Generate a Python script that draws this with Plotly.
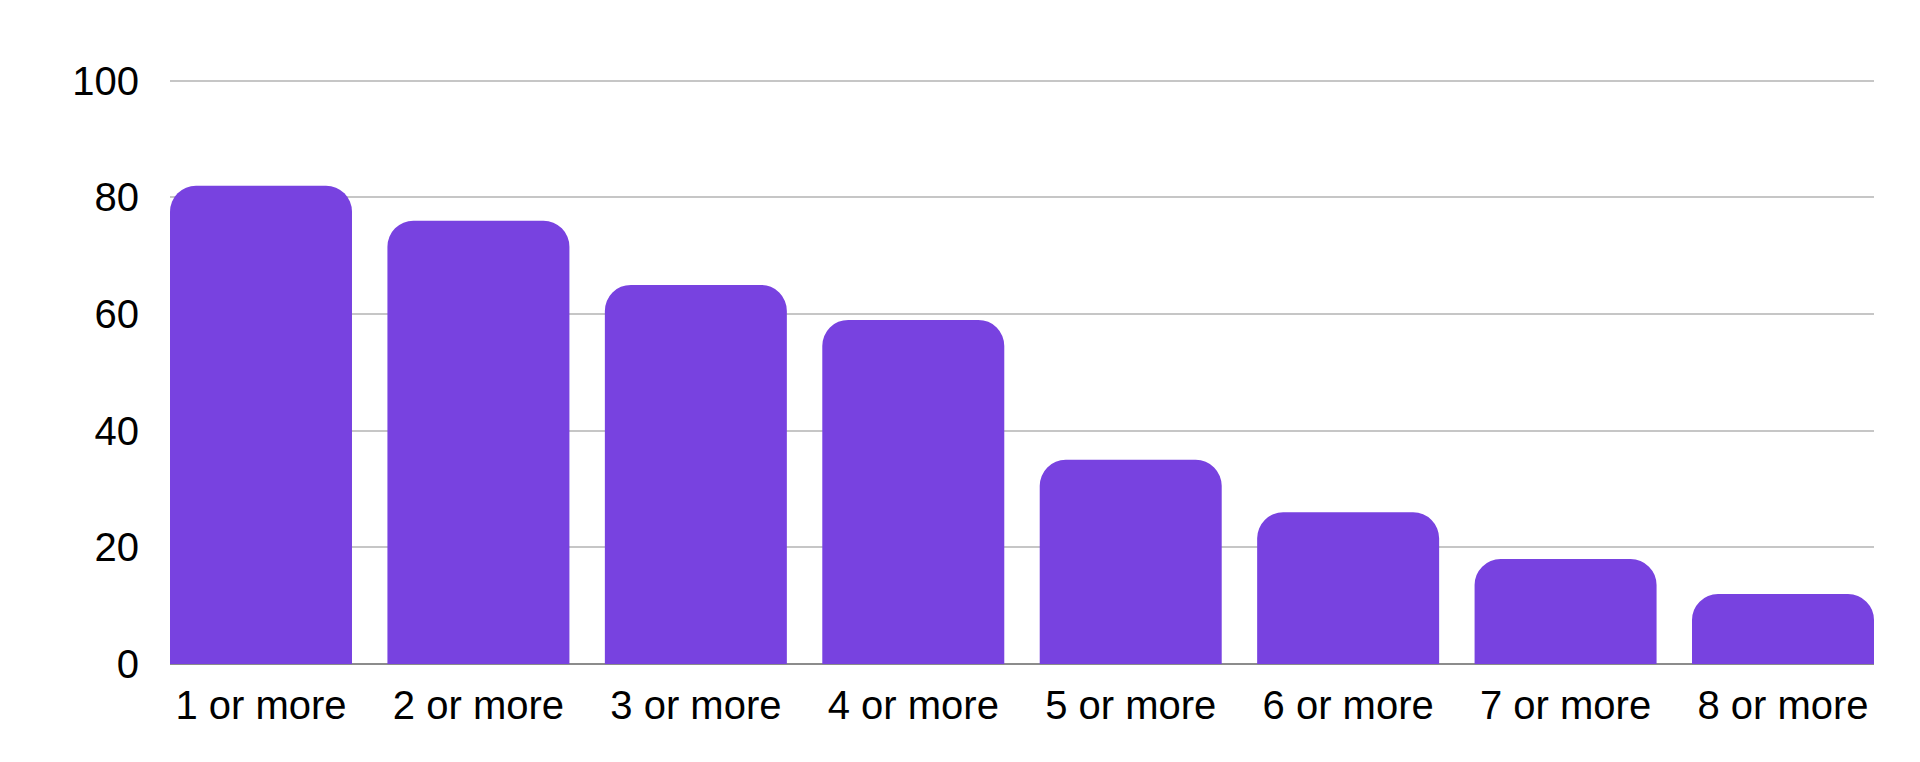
import plotly.graph_objects as go

# data
categories = ["1 or more", "2 or more", "3 or more", "4 or more",
              "5 or more", "6 or more", "7 or more", "8 or more"]
values = [82, 76, 65, 59, 35, 26, 18, 12]
y_ticks = [0, 20, 40, 60, 80, 100]

bar_color = "#7842e0"
bar_frac = 0.837  # bar width as share of category step

fig = go.Figure()
fig.add_trace(go.Bar(
    x=categories,
    y=values,
    marker=dict(color=bar_color, line=dict(width=0), cornerradius=26),
    width=bar_frac,
    showlegend=False,
    hovertemplate="%{x}: %{y}<extra></extra>",
))

# page body adds an 8px margin, so margins are trimmed by that much
fig.update_layout(
    width=1920,
    height=762,
    margin=dict(l=162, r=54, t=71, b=106),
    paper_bgcolor="white",
    plot_bgcolor="white",
    font=dict(family="Liberation Sans, Arial, sans-serif", size=40, color="black"),
)

fig.update_xaxes(
    type="category",
    range=[-bar_frac / 2, len(categories) - 1 + bar_frac / 2],
    showgrid=False,
    showline=False,
    ticks="",
    ticklabelstandoff=14,
    tickfont=dict(size=40),
)

fig.update_yaxes(
    range=[0, 100.3],  # a touch above 100 so the top grid line shows
    tickvals=y_ticks,
    showgrid=True,
    gridcolor="#c6c6c6",
    gridwidth=2,
    zeroline=True,
    zerolinecolor="#8c8c8c",
    zerolinewidth=2,
    showline=False,
    ticks="",
    ticklabelstandoff=30,
    tickfont=dict(size=40),
)

fig.write_html("out.html")
